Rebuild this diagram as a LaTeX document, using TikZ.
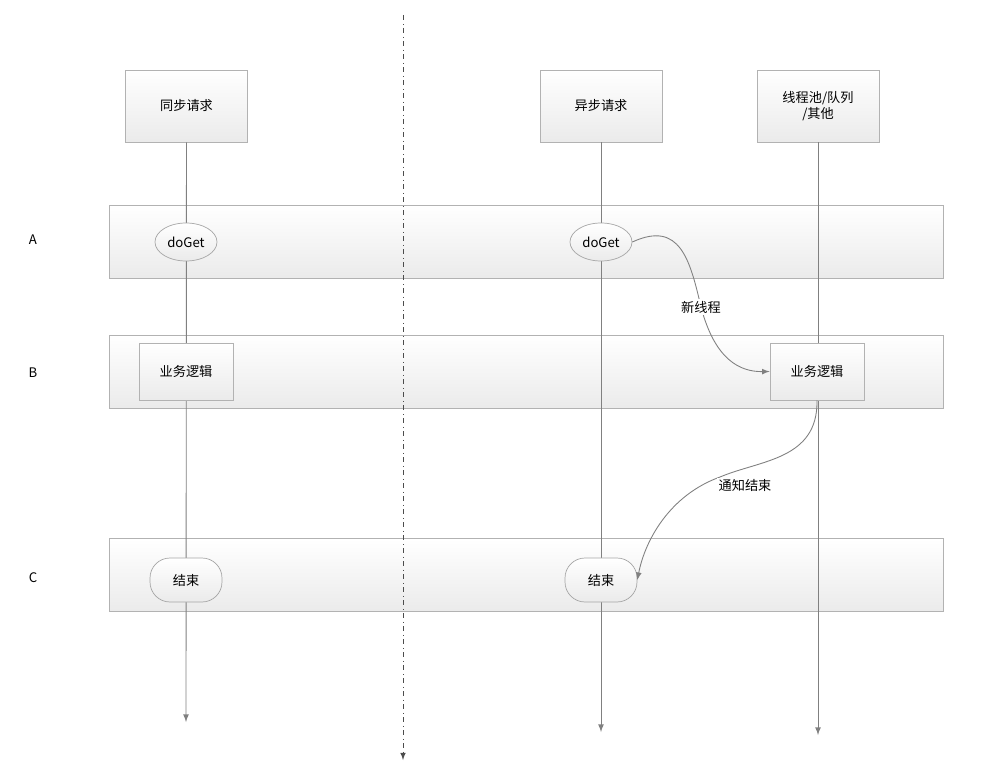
\documentclass[tikz,border=0pt]{standalone}
\usepackage{fontspec}
\setmainfont{Noto Sans CJK SC}
\usetikzlibrary{shapes.geometric}
\tikzstyle{lane}=[draw=black!30,top color=white,bottom color=black!8,minimum width=16.68cm,minimum height=1.46cm,inner sep=0pt]
\tikzstyle{head}=[draw=black!30,top color=white,bottom color=black!8,minimum width=2.44cm,minimum height=1.44cm,align=center]
\tikzstyle{task}=[draw=black!30,top color=white,bottom color=black!8,minimum width=1.88cm,minimum height=1.14cm]
\tikzstyle{oval}=[ellipse,draw=black!35,top color=white,bottom color=black!8,minimum width=1.24cm,minimum height=0.76cm,inner sep=0pt]
\tikzstyle{term}=[rounded corners=0.4cm,draw=black!35,top color=white,bottom color=black!8,minimum width=1.44cm,minimum height=0.88cm]
\tikzstyle{life}=[-latex,draw=black!50,line width=0.5pt]
\tikzstyle{flow}=[-latex,draw=black!50,line width=0.5pt]
\begin{document}
\begin{tikzpicture}[x=0.02cm,y=-0.02cm,font=\fontsize{7.5}{9}\selectfont]
\useasboundingbox (0,0) rectangle (1000,770);
% lanes
\node [lane] (laneA) at (526,241.5) {};
\node [lane] (laneB) at (526,371.5) {};
\node [lane] (laneC) at (526,575) {};
\node (labA) at (33,240) {A};
\node (labB) at (33,373) {B};
\node (labC) at (33,578) {C};
% heads
\node [head] (sync) at (186.5,106) {同步请求};
\node [head] (async) at (601,106) {异步请求};
\node [head] (pool) at (818,106) {线程池/队列\\/其他};
\coordinate (syncEnd) at (186,722);
\coordinate (asyncEnd) at (601,732);
\coordinate (poolEnd) at (818,735);
\coordinate (splitTop) at (403,15);
\coordinate (splitEnd) at (403,760);
\draw [life] (sync) -- (syncEnd);
\draw [life] (async) -- (asyncEnd);
\draw [life] (pool) -- (poolEnd);
\draw [-latex,dash dot,black!70] (splitTop) -- (splitEnd);
% steps
\node [oval] (getS) at (186,242) {doGet};
\node [oval] (getA) at (601,242) {doGet};
\node [task] (workS) at (186,371.5) {业务逻辑};
\node [task] (workP) at (817,371.5) {业务逻辑};
\node [term] (endS) at (186,580) {结束};
\node [term] (endA) at (601,580) {结束};
\draw [flow] (getA.east) .. controls (680,220) and (690,260) .. (701,307) node [fill=white,inner sep=1pt] {新线程} .. controls (715,360) and (740,372) .. (workP.west);
\draw [flow] (workP.south) .. controls (818,460) and (760,460) .. (720,477) node [fill=white,inner sep=1pt,right=-2pt,yshift=-5pt] {通知结束} .. controls (670,495) and (645,540) .. (endA.east);
\end{tikzpicture}
\end{document}
